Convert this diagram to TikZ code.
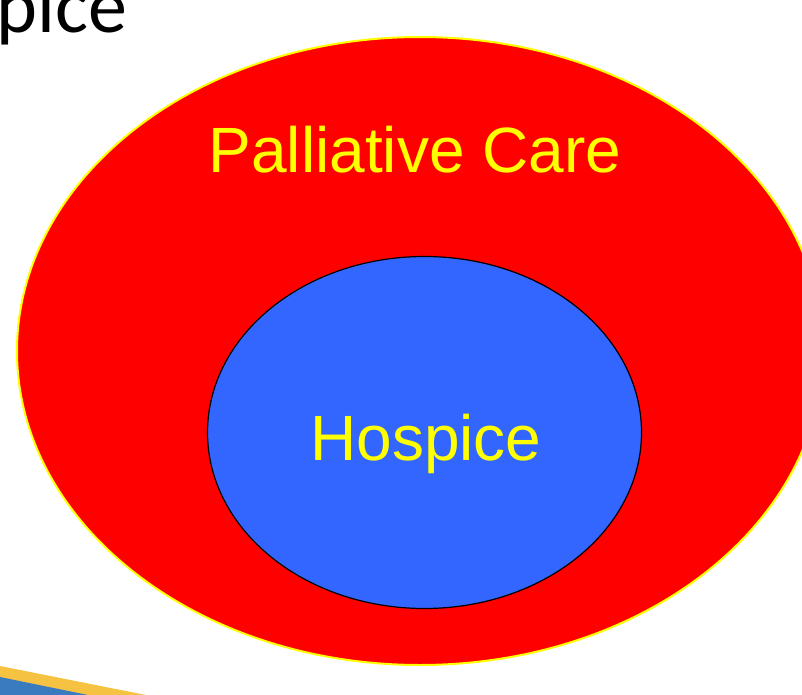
\documentclass[tikz,border=0pt]{standalone}
\usepackage{fontspec}
\setmainfont{Liberation Sans}
\newfontfamily\calibri{Carlito}
\usetikzlibrary{shapes.geometric}

\definecolor{carered}{RGB}{255,0,0}
\definecolor{hospblue}{RGB}{51,102,255}
\definecolor{labelyellow}{RGB}{255,255,0}
\definecolor{stripblue}{RGB}{58,123,191}
\definecolor{stripgold}{RGB}{245,194,66}

\begin{document}
\begin{tikzpicture}[x=1pt,y=-1pt,
    every node/.style={inner sep=0pt},
    region/.style={ellipse,draw,line width=#1},
    label/.style={text=labelyellow,font=\fontsize{64}{70}\selectfont,anchor=base}]
                \useasboundingbox (0,0) rectangle (802,695);
                \clip (0,0) rectangle (802,695);

                % outer set and inner set
                \node[region=2pt,draw=labelyellow,fill=carered,minimum width=806pt,minimum height=628pt] (care) at (420,351) {};
                \node[region=1.2pt,draw=black,fill=hospblue,minimum width=434pt,minimum height=352pt] (hospice) at (424.5,432.5) {};

                \node[label] (caretext) at (415,172) {Palliative Care};
                \node[label] (hosptext) at (426,460) {Hospice};

                % leftovers of the slide
                \node[font=\calibri\fontsize{78}{82}\selectfont,anchor=base west] (title) at (-4,33) {pice};
                \fill[stripgold] (0,666) -- (146,695) -- (0,695) -- cycle;
                \fill[stripblue] (0,677) -- (88,695) -- (0,695) -- cycle;
            \end{tikzpicture}
\end{document}
